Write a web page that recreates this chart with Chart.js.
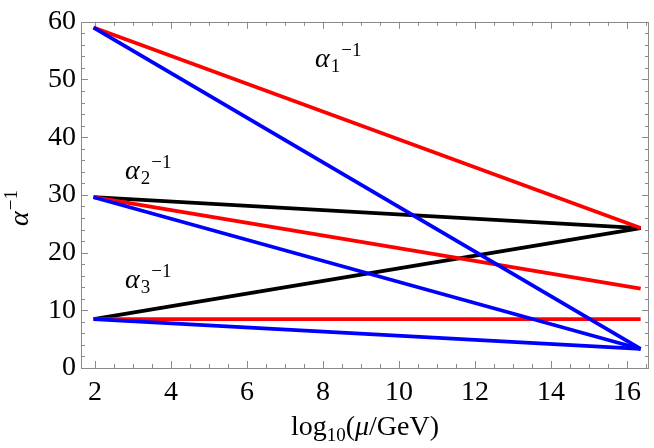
<!DOCTYPE html>
<html>
<head>
<meta charset="utf-8">
<script src="https://cdn.jsdelivr.net/npm/chart.js@4.4.1/dist/chart.umd.min.js"></script>
<style>
  html, body { margin: 0; padding: 0; background: #ffffff; }
  #wrap { width: 654px; height: 448px; position: relative; }
</style>
</head>
<body>
<div id="wrap"><canvas id="c" width="654" height="448"></canvas></div>
<script>
// ---- data ----
const muRange = [1.96, 16.36];            // log10(mu/GeV): M_Z -> GUT scale
const alpha1Red = [59.0, 24.25];
const alpha1Blue = [59.0, 3.3];
const alpha2Black = [29.6, 24.25];
const alpha2Red = [29.6, 13.75];
const alpha2Blue = [29.6, 3.3];
const alpha3Black = [8.47, 24.25];
const alpha3Red = [8.47, 8.47];
const alpha3Blue = [8.47, 3.3];
const xTickLabels = [2, 4, 6, 8, 10, 12, 14, 16];
const yTickLabels = [0, 10, 20, 30, 40, 50, 60];
const curveLabels = ['1', '2', '3'];       // subscripts of alpha_i^-1
const curveLabelPos = [[7.79, 52.2], [2.79, 32.8], [2.79, 13.9]];

const SERIF = '"Liberation Serif", "Times New Roman", serif';
const FRAME = '#8a8a8a';

function pts(ys) { return muRange.map((x, i) => ({ x: x, y: ys[i] })); }
function ds(ys, color, order) {
  return { data: pts(ys), borderColor: color, backgroundColor: color, borderWidth: 3.8,
           showLine: true, pointRadius: 0, fill: false, order: order, borderCapStyle: 'butt' };
}

const frameTicks = {
  id: 'frameTicks',
  beforeDatasetsDraw(chart) {
    const ctx = chart.ctx, a = chart.chartArea;
    const xs = chart.scales.x, ys = chart.scales.y;
    ctx.save();
    ctx.strokeStyle = FRAME;
    ctx.lineWidth = 1;
    ctx.strokeRect(Math.round(a.left) + 0.5, Math.round(a.top) + 0.5,
                   Math.round(a.right - a.left) - 1, Math.round(a.bottom - a.top));
    ctx.beginPath();
    // x ticks (major every 2, minor every 0.5)
    for (let v = Math.ceil(xs.min * 2) / 2; v <= xs.max + 1e-9; v += 0.5) {
      const major = xTickLabels.includes(v);
      const len = major ? 7 : 4;
      const px = Math.round(xs.getPixelForValue(v)) + 0.5;
      ctx.moveTo(px, a.bottom); ctx.lineTo(px, a.bottom - len);
      ctx.moveTo(px, a.top); ctx.lineTo(px, a.top + len);
    }
    // y ticks (major every 10, minor every 2)
    for (let v = 0; v <= ys.max + 1e-9; v += 2) {
      const major = yTickLabels.includes(v);
      const len = major ? 7 : 4;
      const py = Math.round(ys.getPixelForValue(v)) + 0.5;
      ctx.moveTo(a.left, py); ctx.lineTo(a.left + len, py);
      ctx.moveTo(a.right, py); ctx.lineTo(a.right - len, py);
    }
    ctx.stroke();
    ctx.restore();
  },
  afterDatasetsDraw(chart) {
    const ctx = chart.ctx;
    const xs = chart.scales.x, ys = chart.scales.y;
    ctx.save();
    ctx.fillStyle = '#000';
    ctx.textBaseline = 'alphabetic';
    ctx.textAlign = 'left';
    // curve annotations alpha_i^-1
    curveLabels.forEach((s, i) => {
      let x = xs.getPixelForValue(curveLabelPos[i][0]);
      const y = ys.getPixelForValue(curveLabelPos[i][1]);
      ctx.font = 'italic 28px ' + SERIF;
      ctx.fillText('\u03B1', x, y);
      x += ctx.measureText('\u03B1').width + 1;
      ctx.font = '19px ' + SERIF;
      ctx.fillText(s, x, y + 5);
      x += ctx.measureText(s).width + 1;
      ctx.fillText('\u22121', x, y - 11);
    });
    // y title alpha^-1 (rotated)
    ctx.save();
    ctx.translate(28, 226);
    ctx.rotate(-Math.PI / 2);
    ctx.font = 'italic 28px ' + SERIF;
    ctx.fillText('\u03B1', 0, 0);
    const aw = ctx.measureText('\u03B1').width;
    ctx.font = '19px ' + SERIF;
    ctx.fillText('\u22121', aw + 1, -11);
    ctx.restore();
    // x title log10(mu/GeV)
    const parts = [
      { t: 'log', f: '28px ' + SERIF, dy: 0 },
      { t: '10', f: '19px ' + SERIF, dy: 6 },
      { t: '(', f: '28px ' + SERIF, dy: 0 },
      { t: '\u03BC', f: 'italic 28px ' + SERIF, dy: 0 },
      { t: '/GeV)', f: '28px ' + SERIF, dy: 0 }
    ];
    let total = 0;
    parts.forEach(p => { ctx.font = p.f; p.w = ctx.measureText(p.t).width; total += p.w; });
    let cx = (chart.chartArea.left + chart.chartArea.right) / 2 - total / 2;
    parts.forEach(p => { ctx.font = p.f; ctx.fillText(p.t, cx, 435 + p.dy); cx += p.w; });
    ctx.restore();
  }
};

new Chart(document.getElementById('c'), {
  type: 'scatter',
  data: {
    datasets: [
      ds(alpha1Blue, '#0000ff', 0),
      ds(alpha2Blue, '#0000ff', 0),
      ds(alpha3Blue, '#0000ff', 0),
      ds(alpha1Red, '#ff0000', 1),
      ds(alpha2Red, '#ff0000', 1),
      ds(alpha3Red, '#ff0000', 1),
      ds(alpha2Black, '#000000', 2),
      ds(alpha3Black, '#000000', 2)
    ]
  },
  options: {
    responsive: false,
    animation: false,
    events: [],
    layout: { padding: { top: 16, right: 5, left: 0, bottom: 0 } },
    plugins: { legend: { display: false }, tooltip: { enabled: false } },
    scales: {
      x: {
        type: 'linear', min: 1.63, max: 16.58,
        afterBuildTicks: s => { s.ticks = xTickLabels.map(v => ({ value: v })); },
        afterFit: s => { s.height = 80; },
        grid: { display: false, drawTicks: false },
        border: { display: false },
        ticks: { color: '#000', padding: 8, maxRotation: 0, autoSkip: false,
                 font: { family: SERIF, size: 28 } }
      },
      y: {
        type: 'linear', min: 0, max: 60,
        afterBuildTicks: s => { s.ticks = yTickLabels.map(v => ({ value: v })); },
        afterFit: s => { s.width = 81; },
        grid: { display: false, drawTicks: false },
        border: { display: false },
        ticks: { color: '#000', padding: 5, autoSkip: false,
                 font: { family: SERIF, size: 28 } }
      }
    }
  },
  plugins: [frameTicks]
});
</script>
</body>
</html>
